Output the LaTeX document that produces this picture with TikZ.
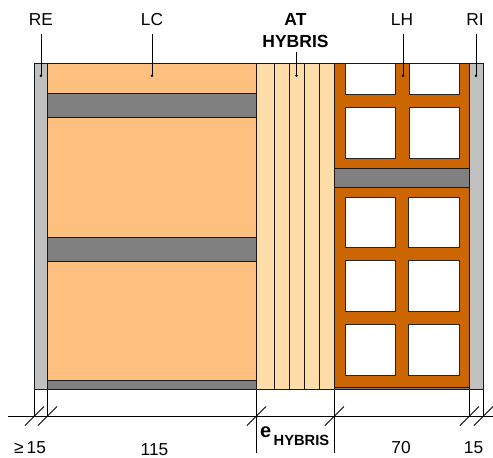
\documentclass[tikz,border=0pt]{standalone}
\usepackage{fontspec}
\setmainfont{Liberation Sans}
\usetikzlibrary{arrows.meta}
\definecolor{orangeLC}{HTML}{FFBF7F}
\definecolor{orangeAT}{HTML}{FFDCA8}
\definecolor{brickLH}{HTML}{CC6600}
\definecolor{greyband}{HTML}{808080}
\definecolor{greyRE}{HTML}{C0C0C0}
\tikzset{
	layer/.style={draw=black!90, line width=1.1pt},
	hole/.style={draw=black!85, fill=white, line width=1.1pt},
	label/.style={font=\fontsize{17.3}{17.3}\selectfont, inner sep=0pt, anchor=base},
	labelB/.style={label, font=\fontsize{17.5}{17.5}\selectfont\bfseries},
	leader/.style={black, line width=1pt, -{Circle[length=2.4pt]}},
	dimline/.style={black, line width=1pt}
}
\begin{document}
\begin{tikzpicture}[x=1pt, y=-1pt]
	\useasboundingbox (0,0) rectangle (493,458);
	
	% enduits
	\draw[layer, fill=greyRE] (34.5,63.5) rectangle (47.5,389.5);
	\draw[layer, fill=greyRE] (469.5,63.5) rectangle (483.5,389.5);
	
	% LC
	\draw[layer, fill=orangeLC] (47.5,63.5) rectangle (256.5,389.5);
	\foreach \ya/\yb in {93.5/117.5, 237.5/261.5, 380.5/389.5}
		\draw[layer, fill=greyband] (47.5,\ya) rectangle (256.5,\yb);
	
	% AT
	\draw[layer, fill=orangeAT] (256.5,63.5) rectangle (334.5,389.5);
	\foreach \xa in {274.5,289.5,304.5,319.5}
		\draw[layer] (\xa,63.5) -- (\xa,389.5);
	
	% LH
	\draw[layer, fill=brickLH] (334.5,63.5) rectangle (469.5,389.5);
	\draw[layer, fill=greyband] (334.5,168.5) rectangle (469.5,187.5);
	\draw[layer, fill=greyband] (334.5,387.5) rectangle (469.5,389.5);
	\foreach \ya/\yb in {63.5/94.5, 107.5/158.5}{
		\draw[hole] (345.5,\ya) rectangle (395.5,\yb);
		\draw[hole] (409.5,\ya) rectangle (459.5,\yb);
	}
	\foreach \ya/\yb in {197.5/247.5, 260.5/311.5, 324.5/375.5}{
		\draw[hole] (345.5,\ya) rectangle (395.5,\yb);
		\draw[hole] (408.5,\ya) rectangle (459.5,\yb);
	}
	\draw[layer] (34.5,63.5) -- (483.5,63.5);
	
	% reperes
	\node[label] (re) at (41,25) {RE};
	\node[label] (lc) at (152,25) {LC};
	\node[labelB] (at) at (295.5,25) {AT};
	\node[labelB] (hybris) at (295.5,47) {HYBRIS};
	\node[label] (lh) at (402,25) {LH};
	\node[label] (ri) at (475,25) {RI};
	
	\coordinate (rep) at (41,77);
	\coordinate (lcp) at (152,77);
	\coordinate (atp) at (296.5,77);
	\coordinate (lhp) at (403,77);
	\coordinate (rip) at (476,77);
	
	\draw[leader] (re.south |- 0,34) -- (rep);
	\draw[leader] (lc.south |- 0,34) -- (lcp);
	\draw[leader] (296.5,52) -- (atp);
	\draw[leader] (403,34) -- (lhp);
	\draw[leader] (476,34) -- (rip);
	
	% cotes
	\coordinate (dimL) at (8,416.5);
	\coordinate (dimR) at (493,416.5);
	\draw[dimline] (dimL) -- (dimR);
	\foreach \xa/\yb in {34.5/416.5, 47.5/416.5, 256.5/453, 334.5/453, 469.5/416.5, 483.5/416.5}{
		\draw[dimline] (\xa,389.5) -- (\xa,\yb);
		\draw[dimline] (\xa-9.5,425.5) -- (\xa+9.5,406.5);
	}
	
	\node[label, anchor=base west] (c1) at (14,453) {≥\hspace{3pt}15};
	\node[label] (c2) at (154.5,455) {115};
	\node[labelB, anchor=base west, font=\fontsize{20}{20}\selectfont\bfseries] (c3) at (260,437) {e};
	\node[labelB, anchor=base west, font=\fontsize{14.7}{14.7}\selectfont\bfseries] (c4) at (273.5,445) {HYBRIS};
	\node[label] (c5) at (401,453) {70};
	\node[label] (c6) at (473.5,453) {15};
\end{tikzpicture}
\end{document}
